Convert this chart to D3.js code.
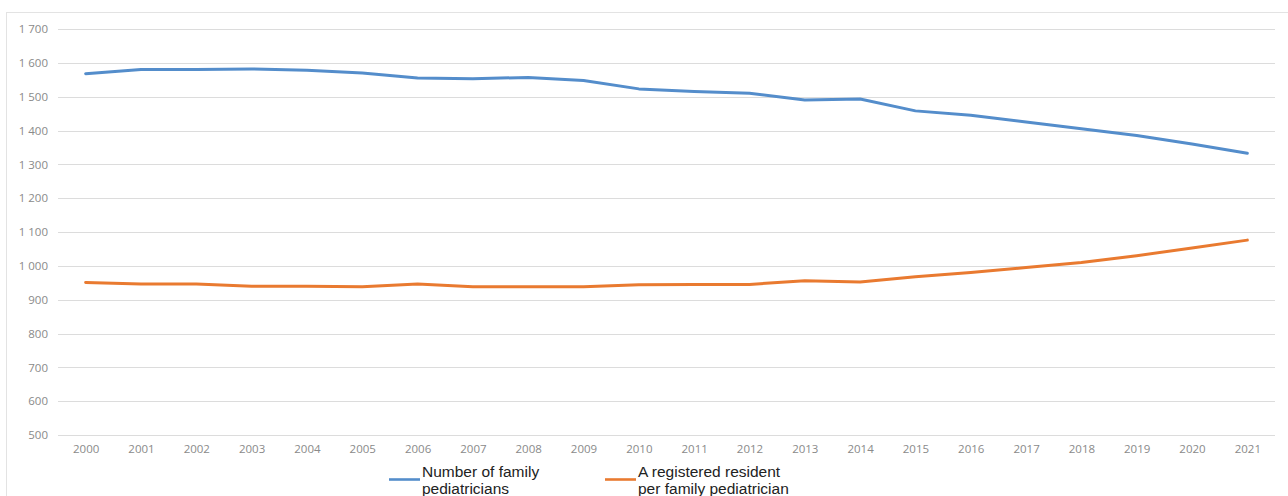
<!DOCTYPE html>
<html>
<head>
<meta charset="utf-8">
<script src="https://cdn.jsdelivr.net/npm/d3@7"></script>
<style>
  body { margin: 0; background: #fff; }
  svg { display: block; }
</style>
</head>
<body>
<div id="chart"></div>
<script>
// data
const years = ["2000","2001","2002","2003","2004","2005","2006","2007","2008","2009","2010",
  "2011","2012","2013","2014","2015","2016","2017","2018","2019","2020","2021"];
const pediatricians = [1568, 1580, 1580, 1582, 1578, 1570, 1555, 1553, 1557, 1548, 1523,
  1515, 1510, 1490, 1493, 1458, 1445, 1425, 1405, 1385, 1360, 1333];
const residentsPer = [951, 946, 946, 940, 940, 938, 946, 938, 938, 938, 944,
  945, 945, 956, 952, 968, 980, 995, 1010, 1030, 1053, 1076];
const yTicks = [500, 600, 700, 800, 900, 1000, 1100, 1200, 1300, 1400, 1500, 1600, 1700];
const seriesNames = ["Number of family pediatricians", "A registered resident per family pediatrician"];

const width = 1288;
const height = 496;

const color = d3.scaleOrdinal()
  .domain(seriesNames)
  .range(["#548dcb", "#e97a30"]);

const svg = d3.select("#chart")
  .append("svg")
  .attr("width", width)
  .attr("height", height);

// chart frame (bottom runs off the picture)
svg.append("rect")
  .attr("x", 6.5)
  .attr("y", 12.5)
  .attr("width", 1300)
  .attr("height", 500)
  .attr("fill", "none")
  .attr("stroke", "#e3e3e3");

const x = d3.scalePoint()
  .domain(years)
  .range([58, 1275])
  .padding(0.5);

const y = d3.scaleLinear()
  .domain([500, 1700])
  .range([435, 29]);

const fmt = d3.formatLocale({ decimal: ",", thousands: " ", grouping: [3], currency: ["", ""] }).format(",d");

// gridlines
svg.append("g")
  .selectAll("line")
  .data(yTicks)
  .enter()
  .append("line")
  .attr("x1", 58)
  .attr("x2", 1275)
  .attr("y1", d => Math.round(y(d)) + 0.5)
  .attr("y2", d => Math.round(y(d)) + 0.5)
  .attr("stroke", "#dcdcdc")
  .attr("stroke-width", 1);

// y axis labels
const yAxis = svg.append("g")
  .attr("transform", "translate(48,0)")
  .call(d3.axisLeft(y).tickValues(yTicks).tickFormat(fmt).tickSize(0).tickPadding(0));
yAxis.select(".domain").remove();
yAxis.selectAll("text")
  .attr("font-family", "'Open Sans', sans-serif")
  .attr("font-size", "11.5px")
  .attr("fill", "#8a8a8a");

// x axis labels
const xAxis = svg.append("g")
  .attr("transform", "translate(0,445)")
  .call(d3.axisBottom(x).tickSize(0).tickPadding(0));
xAxis.select(".domain").remove();
xAxis.selectAll("text")
  .attr("font-family", "'Open Sans', sans-serif")
  .attr("font-size", "11.5px")
  .attr("fill", "#8a8a8a");

// lines
const line = d3.line()
  .x((d, i) => x(years[i]))
  .y(d => y(d));

[pediatricians, residentsPer].forEach((vals, k) => {
  svg.append("path")
    .datum(vals)
    .attr("fill", "none")
    .attr("stroke", color(seriesNames[k]))
    .attr("stroke-width", 3)
    .attr("stroke-linejoin", "round")
    .attr("stroke-linecap", "round")
    .attr("d", line);
});

// legend
const legendItems = [
  { name: seriesNames[0], lines: ["Number of family", "pediatricians"], x: 389 },
  { name: seriesNames[1], lines: ["A registered resident", "per family pediatrician"], x: 605 }
];

const legend = svg.append("g");
legendItems.forEach(item => {
  const g = legend.append("g").attr("transform", `translate(${item.x},0)`);
  g.append("line")
    .attr("x1", 0)
    .attr("x2", 31)
    .attr("y1", 479.5)
    .attr("y2", 479.5)
    .attr("stroke", color(item.name))
    .attr("stroke-width", 2.6);
  g.selectAll("text")
    .data(item.lines)
    .enter()
    .append("text")
    .attr("x", 33)
    .attr("y", (d, i) => 477 + i * 17)
    .attr("font-family", "'Liberation Sans', Arial, sans-serif")
    .attr("font-size", "15.5px")
    .attr("fill", "#222")
    .text(d => d);
});
</script>
</body>
</html>
